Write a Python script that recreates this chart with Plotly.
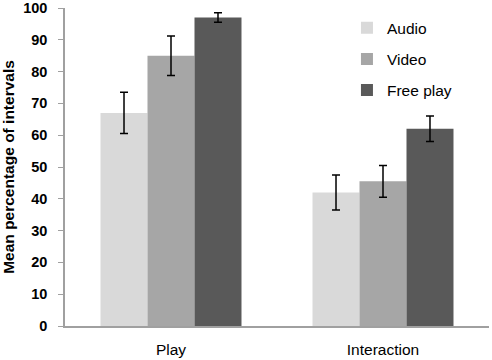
import plotly.graph_objects as go

categories = ["Play", "Interaction"]
series_names = ["Audio", "Video", "Free play"]
audio = [67, 42]
video = [85, 45.5]
free_play = [97, 62]
audio_err = [6.5, 5.5]
video_err = [6.2, 5]
free_err = [1.5, 4]
y_ticks = [0, 10, 20, 30, 40, 50, 60, 70, 80, 90, 100]

colors = ["#d9d9d9", "#a6a6a6", "#595959"]
values = [audio, video, free_play]
errs = [audio_err, video_err, free_err]

fig = go.Figure()
for i, name in enumerate(series_names):
    fig.add_trace(go.Bar(
        x=categories, y=values[i], name=name,
        marker=dict(color=colors[i], line=dict(width=0)),
        error_y=dict(type="data", array=errs[i], color="black", thickness=1.5, width=4),
        legendgroup=name,
    ))

fig.update_layout(
    width=492, height=360,
    margin=dict(l=65, r=3, t=8, b=34, autoexpand=False),
    barmode="group", bargap=0.335, bargroupgap=0,
    plot_bgcolor="white", paper_bgcolor="white",
    font=dict(family="Liberation Sans, Arial, sans-serif", color="black", size=14),
    legend=dict(x=0.665, y=0.99, xanchor="left", yanchor="top",
                font=dict(size=15.5), tracegroupgap=8, bgcolor="rgba(0,0,0,0)"),
    showlegend=True,
)
fig.update_xaxes(showline=True, linecolor="#a0a0a0", linewidth=1.5, ticks="",
                 ticklabelstandoff=9, tickfont=dict(size=15.5), automargin=False)
fig.update_yaxes(range=[0, 100], tickvals=y_ticks, showgrid=False, zeroline=False,
                 showline=True, linecolor="#a0a0a0", linewidth=1.5,
                 ticks="outside", ticklen=5, tickcolor="#a0a0a0",
                 ticklabelstandoff=8, ticklabeloverflow="allow",
                 tickfont=dict(size=14.5, weight="bold"), automargin=False,
                 title=dict(text="<b>Mean percentage of intervals</b>", font=dict(size=15.5), standoff=6))

fig.write_html("out.html", config={"displayModeBar": False},
               post_script="document.body.style.margin='0';")
